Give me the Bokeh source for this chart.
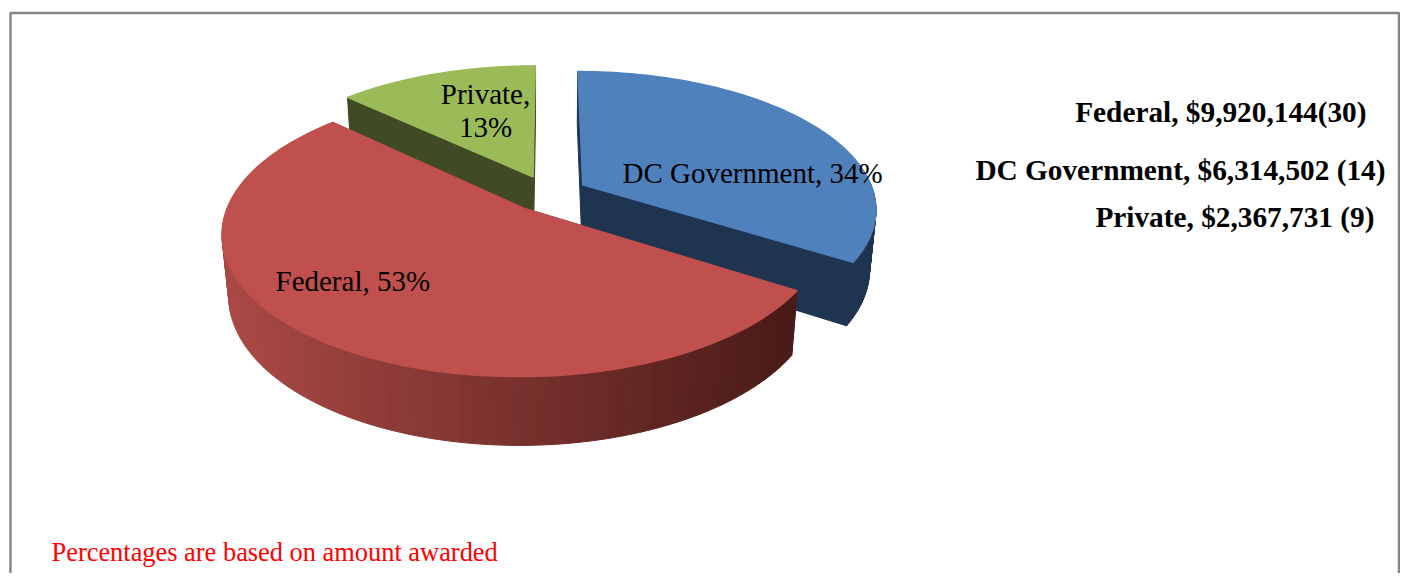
import numpy as np
from bokeh.plotting import figure
from bokeh.models import Range1d
from bokeh.embed import file_html
from bokeh.resources import INLINE
from bokeh.core.properties import value

# ---- data ----
categories = ["DC Government", "Federal", "Private"]
shares = [34, 53, 13]
slice_labels = ["DC Government, 34%", "Federal, 53%", "Private,\n13%"]
award_lines = ["Federal, $9,920,144(30)", "DC Government, $6,314,502 (14)", "Private, $2,367,731 (9)"]
note = "Percentages are based on  amount awarded"

# ---- style ----
top_colors = ["#4F81BD", "#C0504D", "#9BBB59"]
W, H = 1400, 573
CX, CY = 548.0, 193.0
A, B, K = 291.5, 135.0, 0.167
EXPLODE = 0.135
DEPTH, DEPTH_W = 61.0, 0.02


def project(X, Y, down=False):
    w = 1 + K * Y + (DEPTH_W if down else 0)
    sx = CX + A * X / w
    sy = CY - B * Y / w + (DEPTH / w if down else 0)
    return sx, sy


def side_color(i, x):
    if i == 1:
        t = np.clip((x - 228) / (790 - 228), 0, 1)
        c0, c1 = np.array([170, 73, 69]), np.array([74, 27, 24])
        c = c0 + (c1 - c0) * t
        return "#%02x%02x%02x" % tuple(int(v) for v in c)
    return {0: "#1f3450", 2: "#404a25"}[i]


p = figure(width=W, height=H, x_range=Range1d(0, W), y_range=Range1d(H, 0),
           output_backend="svg", toolbar_location=None, min_border=0)
p.axis.visible = False
p.grid.visible = False
p.outline_line_color = None
p.background_fill_color = "white"
p.border_fill_color = "white"

# chart frame
fx = [10, 10, 1398.5, 1398.5]
fy = [582, 12.5, 12.5, 582]
p.line(fx, fy, line_color="#868686", line_width=2.5)

total = sum(shares)
starts = np.cumsum([0] + shares[:-1]) / total * 2 * np.pi
ends = np.cumsum(shares) / total * 2 * np.pi

# far slices first, so that the nearest slice overlaps them
for i in [0, 2, 1]:
    a0, a1 = starts[i], ends[i]
    mid = (a0 + a1) / 2
    ox, oy = EXPLODE * np.sin(mid), EXPLODE * np.cos(mid)
    ang = np.linspace(a0, a1, 120)
    X = np.concatenate([[ox], ox + np.sin(ang), [ox]])
    Y = np.concatenate([[oy], oy + np.cos(ang), [oy]])
    tx, ty = project(X, Y)
    bx, by = project(X, Y, down=True)
    xs, ys, cols = [], [], []
    for j in range(len(X) - 1):
        is_arc = 0 < j < len(X) - 2
        if is_arc and np.cos((ang[j - 1] + ang[j]) / 2) > 0.04:
            continue  # back of the rim is hidden
        xs.append([tx[j], tx[j + 1], bx[j + 1], bx[j]])
        ys.append([ty[j], ty[j + 1], by[j + 1], by[j]])
        cols.append(side_color(i, (tx[j] + tx[j + 1]) / 2))
    p.patches(xs, ys, fill_color=cols, line_color=cols, line_width=1.0)
    p.patch(tx, ty, fill_color=top_colors[i], line_color=top_colors[i], line_width=1.2)

serif = value("Liberation Serif")
p.text([622], [172], text=[slice_labels[0]], text_font=serif, text_font_size="29px",
       text_color="black", text_align="left", text_baseline="middle")
p.text([275], [280], text=[slice_labels[1]], text_font=serif, text_font_size="29px",
       text_color="black", text_align="left", text_baseline="middle")
p.text([485], [110], text=[slice_labels[2]], text_font=serif, text_font_size="29px",
       text_color="black", text_align="center", text_baseline="middle", text_line_height=1.02)

for s, xr, yc in zip(award_lines, [1366, 1385, 1374], [111, 169, 216]):
    p.text([xr], [yc], text=[s], text_font=serif, text_font_size="29.3px", text_font_style="bold",
           text_color="black", text_align="right", text_baseline="middle")

p.text([51], [551], text=[note], text_font=serif, text_font_size="26.4px",
       text_color="#ff0000", text_align="left", text_baseline="middle")

open("out.html", "w").write(file_html(p, INLINE))
